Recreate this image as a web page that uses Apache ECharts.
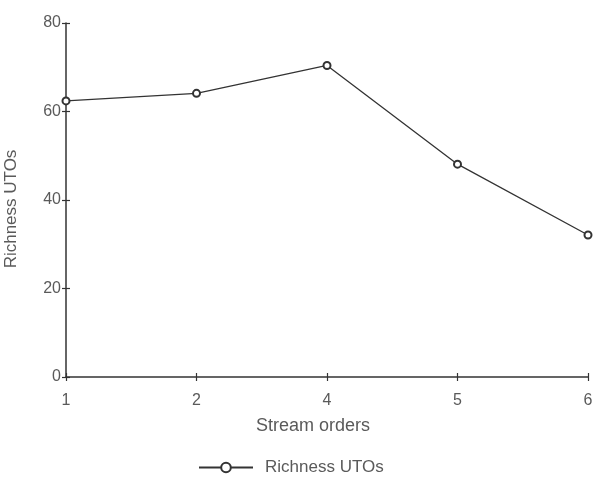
<!DOCTYPE html>
<html><head><meta charset="utf-8">
<script src="https://cdn.jsdelivr.net/npm/echarts@6/dist/echarts.min.js"></script>
<style>html,body{margin:0;padding:0;background:#fff}#c{width:599px;height:480px}</style>
</head><body><div id="c"></div>
<script>
const categories = ['1','2','4','5','6'];
const richness = [62.4, 64.1, 70.4, 48.1, 32.1];
const seriesName = 'Richness UTOs';
const xName = 'Stream orders';
const yName = 'Richness UTOs';

const font = '"Liberation Sans", Arial, sans-serif';
const txt = '#5a5a5a';
const ax = '#333';
const chart = echarts.init(document.getElementById('c'));
chart.setOption({
  animation:false,
  grid:{left:66,right:11,top:23,bottom:103,containLabel:false,outerBoundsMode:'none'},
  legend:{top:454,left:193,itemWidth:54,itemHeight:12,itemGap:10,
    textStyle:{fontFamily:font,fontSize:17,color:txt,padding:[0,0,0,7]},
    data:[{name:seriesName}]},
  xAxis:[{type:'category',data:categories,boundaryGap:false,
    name:xName,nameLocation:'middle',nameGap:40,
    nameTextStyle:{fontFamily:font,fontSize:18,color:txt,padding:[0,28,0,0]},
    axisLine:{lineStyle:{color:ax,width:1.5}},
    axisTick:{alignWithLabel:true,length:4,lineStyle:{color:ax,width:1.2}},
    axisLabel:{fontFamily:font,fontSize:16,color:txt,margin:16},
    splitLine:{show:false}},
   {type:'category',data:categories,boundaryGap:false,position:'bottom',
    axisLine:{show:false},axisLabel:{show:false},
    axisTick:{inside:true,length:4,lineStyle:{color:ax,width:1.2}}}],
  yAxis:[{type:'value',min:0,max:80,interval:20,
    name:yName,nameLocation:'middle',nameGap:46,nameRotate:90,
    nameTextStyle:{fontFamily:font,fontSize:17,color:txt,padding:[0,18,0,0]},
    axisLine:{show:true,lineStyle:{color:ax,width:1.5}},
    axisTick:{show:true,length:4,lineStyle:{color:ax,width:1.2}},
    axisLabel:{fontFamily:font,fontSize:16,color:txt,margin:5},
    splitLine:{show:false}},
   {type:'value',min:0,max:80,interval:20,position:'left',
    axisLine:{show:false},axisLabel:{show:false},splitLine:{show:false},
    axisTick:{show:true,inside:true,length:4,lineStyle:{color:ax,width:1.2}}}],
  series:[{name:seriesName,type:'line',data:richness,
    symbol:'emptyCircle',symbolSize:7,
    lineStyle:{color:ax,width:1.3},
    itemStyle:{color:ax,borderWidth:1.3,borderColor:ax}}]
});
</script></body></html>
